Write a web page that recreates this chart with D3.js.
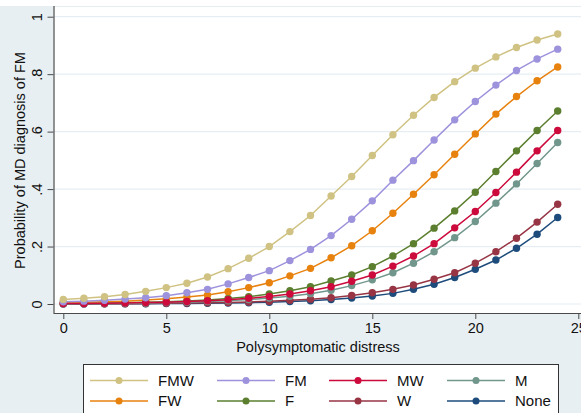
<!DOCTYPE html>
<html>
<head>
<meta charset="utf-8">
<script src="https://cdn.jsdelivr.net/npm/d3@7"></script>
<style>
  html, body { margin: 0; padding: 0; background: #fff; }
  svg { display: block; font-family: "Liberation Sans", Arial, Helvetica, sans-serif; }
</style>
</head>
<body>
<svg id="chart" width="581" height="413"></svg>
<script>
// ---- Data ----
const xValues = d3.range(0, 25);
const seriesNames = ["FMW", "FM", "MW", "M", "FW", "F", "W", "None"];
const seriesColors = ["#cfc282", "#9d92dc", "#cc0a3c", "#71968c", "#e8820e", "#5b7f2f", "#973545", "#1d4c7c"];

const FMW = [0.016, 0.020, 0.025, 0.033, 0.044, 0.057, 0.072, 0.094, 0.123, 0.159, 0.200, 0.252, 0.308, 0.376, 0.444, 0.517, 0.589, 0.657, 0.719, 0.774, 0.821, 0.860, 0.893, 0.919, 0.940];
const FM  = [0.008, 0.010, 0.013, 0.017, 0.022, 0.029, 0.039, 0.051, 0.070, 0.092, 0.116, 0.151, 0.190, 0.238, 0.295, 0.359, 0.431, 0.499, 0.571, 0.641, 0.705, 0.762, 0.813, 0.853, 0.887];
const MW  = [0.0015, 0.002, 0.0027, 0.0036, 0.0048, 0.0064, 0.0085, 0.0113, 0.015, 0.020, 0.026, 0.035, 0.046, 0.060, 0.079, 0.101, 0.132, 0.167, 0.210, 0.265, 0.322, 0.388, 0.459, 0.533, 0.604];
const M   = [0.0011, 0.0015, 0.002, 0.0026, 0.0036, 0.0048, 0.0064, 0.0086, 0.0115, 0.0154, 0.0206, 0.027, 0.036, 0.048, 0.064, 0.084, 0.109, 0.142, 0.182, 0.231, 0.287, 0.351, 0.418, 0.489, 0.562];
const FW  = [0.0042, 0.0056, 0.0075, 0.010, 0.0135, 0.018, 0.024, 0.031, 0.043, 0.057, 0.074, 0.098, 0.124, 0.161, 0.203, 0.255, 0.316, 0.382, 0.450, 0.521, 0.592, 0.661, 0.722, 0.777, 0.825];
const F   = [0.0019, 0.0025, 0.0034, 0.0045, 0.006, 0.0079, 0.0105, 0.014, 0.019, 0.025, 0.035, 0.046, 0.060, 0.080, 0.101, 0.130, 0.167, 0.210, 0.264, 0.324, 0.389, 0.461, 0.533, 0.604, 0.672];
const W   = [0.0006, 0.0007, 0.001, 0.0013, 0.0017, 0.0023, 0.0031, 0.0041, 0.0054, 0.0072, 0.0095, 0.0127, 0.0168, 0.022, 0.030, 0.039, 0.051, 0.066, 0.086, 0.109, 0.142, 0.182, 0.229, 0.285, 0.347];
const None = [0.0003, 0.0004, 0.0005, 0.0007, 0.001, 0.0014, 0.0018, 0.0025, 0.0034, 0.0046, 0.0062, 0.0084, 0.0113, 0.0153, 0.021, 0.028, 0.037, 0.051, 0.069, 0.092, 0.121, 0.153, 0.194, 0.243, 0.301];
const seriesValues = [FMW, FM, MW, M, FW, F, W, None];

const xTicks = [0, 5, 10, 15, 20, 25];
const xTickLabels = ["0", "5", "10", "15", "20", "25"];
const yTicks = [0, 0.2, 0.4, 0.6, 0.8, 1];
const yTickLabels = ["0", ".2", ".4", ".6", ".8", "1"];
const xTitle = "Polysymptomatic distress";
const yTitle = "Probability of MD diagnosis of FM";

// ---- Layout ----
const W_ = 581, H_ = 413;
const plot = { left: 53.5, top: 6, right: 581, bottom: 313 };
const svg = d3.select("#chart");

// outer background
svg.append("rect").attr("x", 0).attr("y", 6).attr("width", W_).attr("height", H_ - 6).attr("fill", "#e8eff2");
// plot region
svg.append("rect").attr("x", plot.left).attr("y", plot.top)
  .attr("width", plot.right - plot.left).attr("height", plot.bottom - plot.top)
  .attr("fill", "#ffffff");
svg.append("line").attr("x1", plot.left).attr("x2", plot.right).attr("y1", plot.top + 0.5).attr("y2", plot.top + 0.5)
  .attr("stroke", "#e6eef2").attr("stroke-width", 1);

const x = d3.scaleLinear().domain([0, 25]).range([63.3, 578.3]);
const y = d3.scaleLinear().domain([0, 1]).range([304, 16.7]);

// gridlines
svg.append("g").selectAll("line").data(yTicks).join("line")
  .attr("x1", plot.left).attr("x2", plot.right)
  .attr("y1", d => y(d)).attr("y2", d => y(d))
  .attr("stroke", "#e6eef3").attr("stroke-width", 1.2);

// axes
const xAxis = d3.axisBottom(x).tickValues(xTicks).tickFormat((d, i) => xTickLabels[i]).tickSize(6).tickSizeOuter(0).tickPadding(4);
const gx = svg.append("g").attr("transform", `translate(0,${plot.bottom})`).call(xAxis);
gx.select(".domain").attr("d", `M${plot.left},0.5H${plot.right}`).attr("stroke", "#4a4a4a").attr("stroke-width", 1.2);
gx.selectAll(".tick line").attr("stroke", "#4a4a4a").attr("stroke-width", 1);
gx.selectAll(".tick text").attr("font-size", 14.5).attr("fill", "#111").attr("font-family", "Liberation Sans, Arial, sans-serif");

const yAxis = d3.axisLeft(y).tickValues(yTicks).tickFormat((d, i) => yTickLabels[i]).tickSize(6).tickSizeOuter(0).tickPadding(0);
const gy = svg.append("g").attr("transform", `translate(${plot.left},0)`).call(yAxis);
gy.select(".domain").attr("d", `M0.5,${plot.top}V${plot.bottom}`).attr("stroke", "#4a4a4a").attr("stroke-width", 1.2);
gy.selectAll(".tick line").attr("stroke", "#4a4a4a").attr("stroke-width", 1);
gy.selectAll(".tick text")
  .attr("x", null).attr("dy", null)
  .attr("transform", "translate(-11.5,0) rotate(-90)")
  .attr("text-anchor", "middle")
  .attr("font-size", 14.5).attr("fill", "#111").attr("font-family", "Liberation Sans, Arial, sans-serif");

// axis titles
svg.append("text").attr("x", 318).attr("y", 352).attr("text-anchor", "middle")
  .attr("font-size", 14.5).attr("fill", "#111").text(xTitle);
svg.append("text").attr("transform", `translate(24.5,${(plot.top + plot.bottom) / 2 + 1}) rotate(-90)`)
  .attr("text-anchor", "middle").attr("font-size", 14.5).attr("fill", "#111").text(yTitle);

// series (drawn in reverse so FMW sits on top)
const line = d3.line().x((d, i) => x(xValues[i])).y(d => y(d));
const order = d3.range(seriesNames.length).reverse();
const gs = svg.append("g");
order.forEach(k => {
  const g = gs.append("g");
  g.append("path").datum(seriesValues[k]).attr("d", line)
    .attr("fill", "none").attr("stroke", seriesColors[k]).attr("stroke-width", 1.5);
  g.selectAll("circle").data(seriesValues[k]).join("circle")
    .attr("cx", (d, i) => x(xValues[i])).attr("cy", d => y(d)).attr("r", 3.7)
    .attr("fill", seriesColors[k]);
});

// legend
const legend = svg.append("g");
legend.append("rect").attr("x", 83.5).attr("y", 364.5).attr("width", 475).attr("height", 60)
  .attr("fill", "#fff").attr("stroke", "#333").attr("stroke-width", 1);
const colX = [90, 217, 329, 447];
const rowY = [380.5, 401];
seriesNames.forEach((name, k) => {
  const c = k % 4, r = Math.floor(k / 4);
  const lx = colX[c], ly = rowY[r];
  legend.append("line").attr("x1", lx).attr("x2", lx + 58).attr("y1", ly).attr("y2", ly)
    .attr("stroke", seriesColors[k]).attr("stroke-width", 1.5);
  legend.append("circle").attr("cx", lx + 29).attr("cy", ly).attr("r", 3.5).attr("fill", seriesColors[k]);
  legend.append("text").attr("x", lx + 68).attr("y", ly + 5).attr("font-size", 15).attr("fill", "#111").text(name);
});
</script>
</body>
</html>
